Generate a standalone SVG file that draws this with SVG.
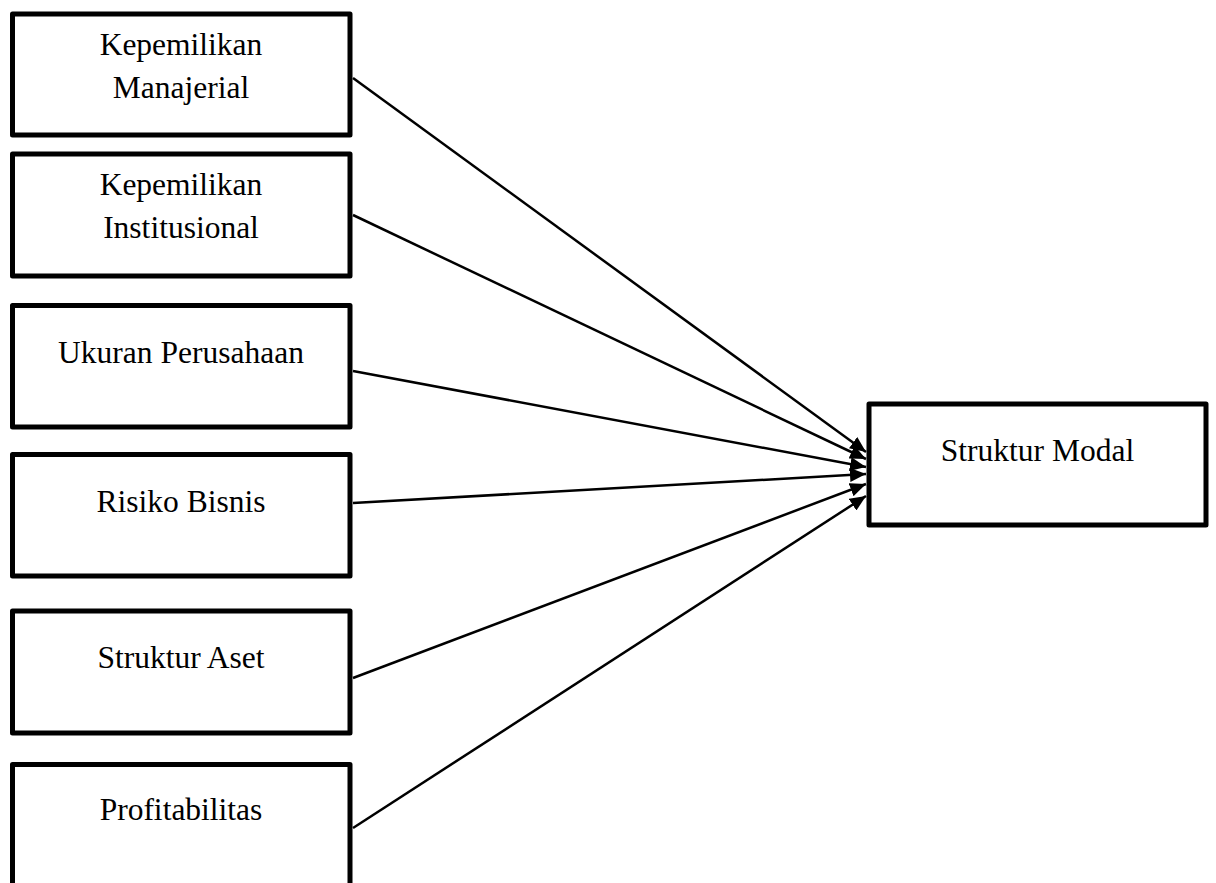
<svg xmlns="http://www.w3.org/2000/svg" width="1216" height="883" viewBox="0 0 1216 883">
<style>
.box{fill:#fff;stroke:#000;stroke-width:5;stroke-linejoin:round}
.lbl{font-family:"Liberation Serif","Times New Roman",serif;font-size:31.5px;fill:#000;text-anchor:middle}
.con{stroke:#000;stroke-width:2.5;fill:none;marker-end:url(#ah)}
</style>
<defs>
<marker id="ah" markerUnits="userSpaceOnUse" markerWidth="18" markerHeight="14" refX="16" refY="7" orient="auto">
<path d="M0,0 L16,7 L0,14 Z" fill="#000"/>
</marker>
</defs>
<rect width="1216" height="883" fill="#fff"/>
<g id="n1"><rect class="box" x="12.5" y="14" width="337.5" height="121"/><text class="lbl" x="181" y="55">Kepemilikan</text><text class="lbl" x="181" y="98">Manajerial</text></g>
<g id="n2"><rect class="box" x="12.5" y="154" width="337.5" height="122"/><text class="lbl" x="181" y="195">Kepemilikan</text><text class="lbl" x="181" y="238">Institusional</text></g>
<g id="n3"><rect class="box" x="12.5" y="305.5" width="337.5" height="121.5"/><text class="lbl" x="181" y="363">Ukuran Perusahaan</text></g>
<g id="n4"><rect class="box" x="12.5" y="454.5" width="337.5" height="121.5"/><text class="lbl" x="181" y="512">Risiko Bisnis</text></g>
<g id="n5"><rect class="box" x="12.5" y="611" width="337.5" height="122"/><text class="lbl" x="181" y="668">Struktur Aset</text></g>
<g id="n6"><rect class="box" x="12.5" y="764.5" width="337.5" height="140"/><text class="lbl" x="181" y="820">Profitabilitas</text></g>
<g id="n7"><rect class="box" x="869" y="404" width="337" height="121"/><text class="lbl" x="1037.5" y="461">Struktur Modal</text></g>
<g id="connectors">
<line class="con" x1="353" y1="78" x2="866" y2="452"/>
<line class="con" x1="353" y1="215" x2="866" y2="459"/>
<line class="con" x1="353" y1="371" x2="866" y2="467"/>
<line class="con" x1="353" y1="503" x2="866" y2="474"/>
<line class="con" x1="353" y1="678" x2="866" y2="484"/>
<line class="con" x1="353" y1="828" x2="866" y2="496"/>
</g>
</svg>
